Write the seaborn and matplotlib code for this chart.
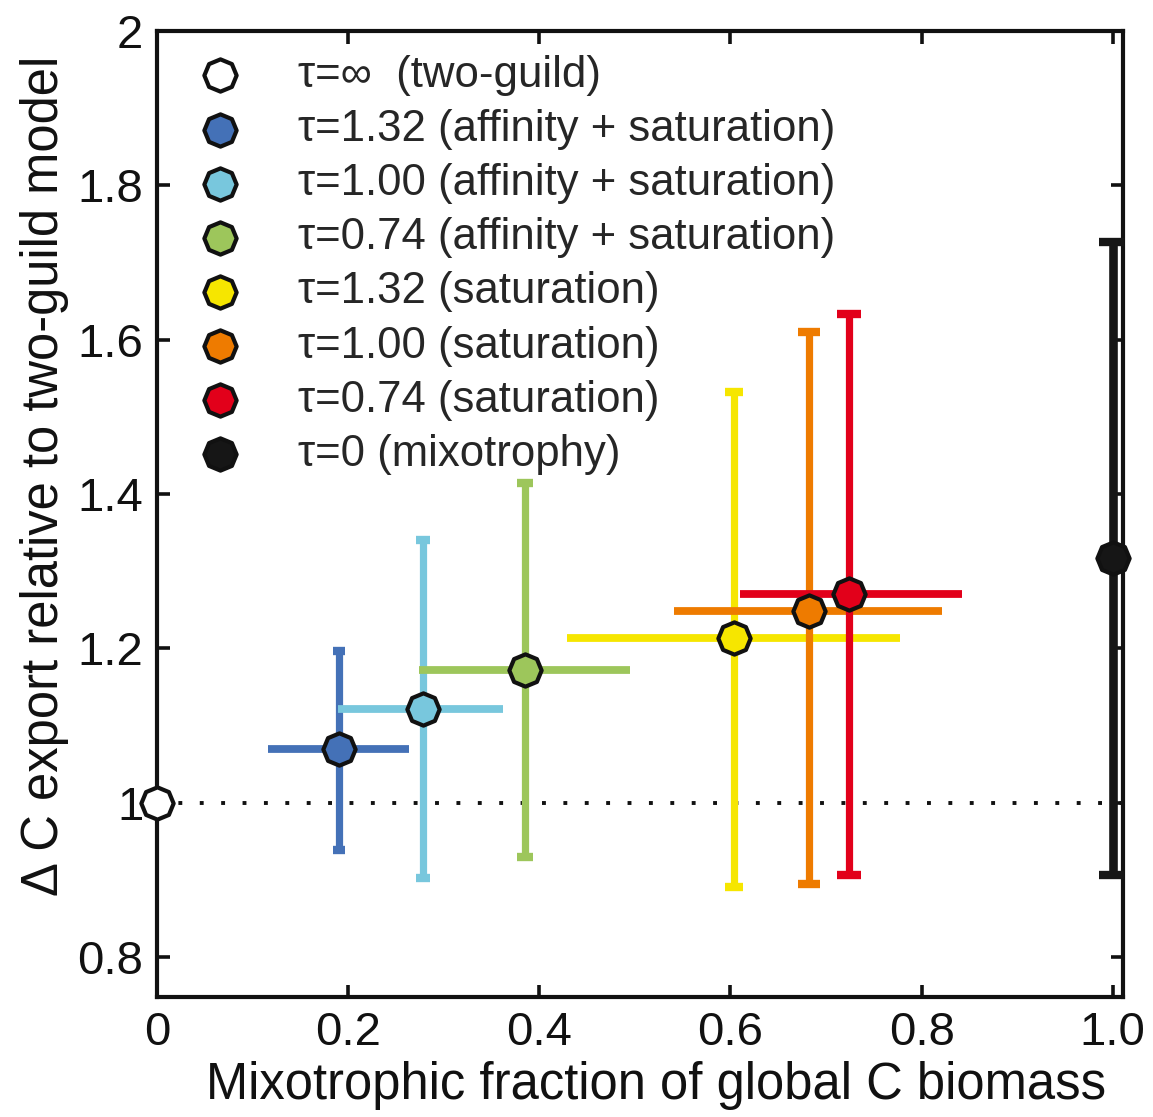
import matplotlib
matplotlib.use("Agg")
import matplotlib.pyplot as plt
import seaborn as sns
import pandas as pd

# data
labels = ["τ=∞  (two-guild)",
          "τ=1.32 (affinity + saturation)",
          "τ=1.00 (affinity + saturation)",
          "τ=0.74 (affinity + saturation)",
          "τ=1.32 (saturation)",
          "τ=1.00 (saturation)",
          "τ=0.74 (saturation)",
          "τ=0 (mixotrophy)"]
frac = [0.0, 0.190, 0.278, 0.385, 0.604, 0.682, 0.724, 1.0]
frac_lo = [0.0, 0.116, 0.189, 0.274, 0.429, 0.541, 0.610, 1.0]
frac_hi = [0.0, 0.264, 0.362, 0.495, 0.777, 0.821, 0.842, 1.0]
export = [1.0, 1.070, 1.121, 1.172, 1.213, 1.248, 1.270, 1.317]
export_lo = [1.0, 0.939, 0.902, 0.930, 0.891, 0.895, 0.906, 0.906]
export_hi = [1.0, 1.197, 1.340, 1.414, 1.532, 1.610, 1.633, 1.727]

xticks = [0, 0.2, 0.4, 0.6, 0.8, 1.0]
xticklabels = ["0", "0.2", "0.4", "0.6", "0.8", "1.0"]
yticks = [0.8, 1.0, 1.2, 1.4, 1.6, 1.8, 2.0]
yticklabels = ["0.8", "1", "1.2", "1.4", "1.6", "1.8", "2"]

colors = ["white", "#4471b7", "#78c7dd", "#9dc65b", "#f6e600",
          "#ee7b00", "#e2001a", "#161616"]
capsizes = [0, 4.5, 5, 5.5, 6.5, 8, 8.5, 10]

df = pd.DataFrame({"label": labels, "frac": frac, "export": export})

sns.set_style("ticks")
plt.rcParams["font.family"] = ["Liberation Sans", "DejaVu Sans"]

fig = plt.figure(figsize=(11.53, 11.17), dpi=100)
ax = fig.add_axes([0.1362, 0.1074, 0.8376, 0.8648])

ax.axhline(1.0, color="#111111", ls=(0, (1, 4.5)), lw=2.8, zorder=1)

for i in range(1, len(labels)):
    lw = 6.2 if i == 7 else 5.2
    # vertical bars with caps
    ax.errorbar(frac[i], export[i],
                yerr=[[export[i] - export_lo[i]], [export_hi[i] - export[i]]],
                fmt="none", ecolor=colors[i], elinewidth=lw,
                capsize=capsizes[i], capthick=6, zorder=2 + i)
    # horizontal bars, no caps
    if i < 7:
        ax.errorbar(frac[i], export[i],
                    xerr=[[frac[i] - frac_lo[i]], [frac_hi[i] - frac[i]]],
                    fmt="none", ecolor=colors[i], elinewidth=5.6,
                    capsize=0, zorder=2 + i)

for i, row in df.iterrows():
    sns.scatterplot(x=[row["frac"]], y=[row["export"]], ax=ax,
                    color=colors[i], marker=(8, 0, 0), s=540,
                    edgecolor="#111111", linewidth=3,
                    label=row["label"], zorder=20, clip_on=False)

ax.set_xlim(0, 1.0105)
ax.set_ylim(0.748, 2.0)
ax.set_xticks(xticks)
ax.set_xticklabels(xticklabels)
ax.set_yticks(yticks)
ax.set_yticklabels(yticklabels)
ax.tick_params(direction="in", length=9, width=2.6, labelsize=34, pad=10,
               top=True, right=True, colors="#111111")
for sp in ax.spines.values():
    sp.set_linewidth(3)
    sp.set_color("#111111")

ax.set_xlabel("Mixotrophic fraction of global C biomass", fontsize=36.5,
              color="#111111")
ax.set_ylabel("Δ C export relative to two-guild model", fontsize=36.5,
              color="#111111")
ax.xaxis.set_label_coords(0.517, -0.066)
ax.yaxis.set_label_coords(-0.091, 0.54)

ax.legend(loc="upper left", bbox_to_anchor=(0.0, 1.007), frameon=False,
          fontsize=31.5, labelspacing=0.30, handletextpad=1.02,
          borderaxespad=0.3, handlelength=1.5)

fig.savefig("out.png", dpi=100)
